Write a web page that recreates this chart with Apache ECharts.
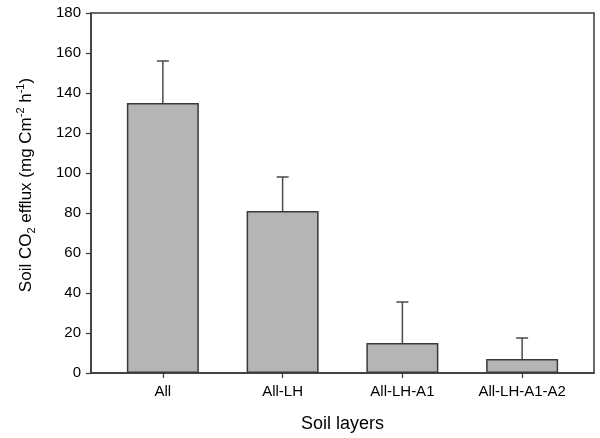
<!DOCTYPE html>
<html>
<head>
<meta charset="utf-8">
<script src="https://cdn.jsdelivr.net/npm/echarts@6/dist/echarts.min.js"></script>
<style>html,body{margin:0;padding:0;background:#fff}#c{width:600px;height:438px}</style>
</head>
<body>
<div id="c"></div>
<script>
var categories = ['All', 'All-LH', 'All-LH-A1', 'All-LH-A1-A2'];
var means = [135, 81, 15, 7];
var errors = [21, 17, 20.5, 10.5];
var yTicks = [0, 20, 40, 60, 80, 100, 120, 140, 160, 180];

var FONT = 'Liberation Sans, Arial, Helvetica, sans-serif';
var chart = echarts.init(document.getElementById('c'), null, {renderer: 'canvas'});
var barData = means.map(function (v, i) { return [i + 1, v]; });
var errData = means.map(function (v, i) { return [i + 1, v, v + errors[i]]; });

chart.setOption({
  animation: false,
  grid: {left: 91, right: 6, top: 13, bottom: 63, show: true, borderColor: '#3a3a3a', borderWidth: 1.5, backgroundColor: 'transparent'},
  xAxis: {
    type: 'value', min: 0.4, max: 4.6,
    splitLine: {show: false},
    axisLine: {show: true, onZero: false, lineStyle: {color: '#3a3a3a', width: 1.5}},
    axisTick: {show: true, inside: false, length: 5, customValues: [1, 2, 3, 4], lineStyle: {color: '#3a3a3a', width: 1.2}},
    axisLabel: {customValues: [1, 2, 3, 4], margin: 11, color: '#000', fontFamily: FONT, fontSize: 15,
      formatter: function (v) { return categories[Math.round(v) - 1] || ''; }},
    name: 'Soil layers', nameLocation: 'middle', nameGap: 42,
    nameTextStyle: {color: '#000', fontFamily: FONT, fontSize: 18}
  },
  yAxis: {
    type: 'value', min: 0, max: 180, interval: 20,
    splitLine: {show: false},
    axisLine: {show: true, lineStyle: {color: '#3a3a3a', width: 1.5}},
    axisTick: {show: true, inside: false, length: 5, lineStyle: {color: '#3a3a3a', width: 1.2}},
    axisLabel: {margin: 10, color: '#000', fontFamily: FONT, fontSize: 15,
      formatter: function (v) { return yTicks.indexOf(v) >= 0 ? String(v) : ''; }},
    name: '{m|Soil CO}{sub|2}{m| efflux (mg Cm}{sup|-2}{m| h}{sup|-1}{m|)}',
    nameLocation: 'middle', nameRotate: 90, nameGap: 54,
    nameTextStyle: {
      color: '#000', fontFamily: FONT, fontSize: 17, padding: [0, 0, 0, 16],
      rich: {
        m: {fontFamily: FONT, fontSize: 17, color: '#000', lineHeight: 22},
        sub: {fontFamily: FONT, fontSize: 11, color: '#000', lineHeight: 22, verticalAlign: 'bottom', padding: [6, 0, 0, 0]},
        sup: {fontFamily: FONT, fontSize: 11, color: '#000', lineHeight: 22, verticalAlign: 'top', padding: [0, 0, 6, 0]}
      }
    }
  },
  series: [
    {
      type: 'custom',
      z: 1,
      renderItem: function (params, api) {
        var x = api.value(0);
        var p0 = api.coord([x, api.value(1)]);
        var p1 = api.coord([x, api.value(2)]);
        var cap = 6;
        return {
          type: 'group',
          children: [
            {type: 'line', shape: {x1: p0[0], y1: p0[1], x2: p1[0], y2: p1[1]}, style: {stroke: '#4a4a4a', lineWidth: 1.5}},
            {type: 'line', shape: {x1: p1[0] - cap, y1: p1[1], x2: p1[0] + cap, y2: p1[1]}, style: {stroke: '#4a4a4a', lineWidth: 1.5}}
          ]
        };
      },
      encode: {x: 0, y: [1, 2]},
      data: errData
    },
    {
      type: 'bar',
      z: 2,
      barWidth: 72,
      data: barData,
      itemStyle: {color: '#b5b5b5', borderColor: '#3a3a3a', borderWidth: 1.5}
    }
  ]
});
</script>
</body>
</html>
